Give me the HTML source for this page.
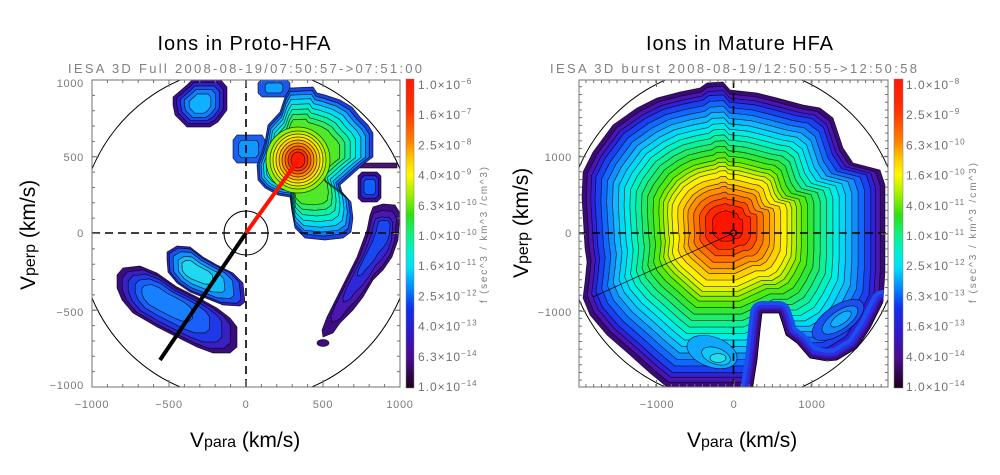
<!DOCTYPE html>
<html><head><meta charset="utf-8"><style>html,body{margin:0;padding:0;background:#fff;}svg{display:block}</style></head>
<body>
<svg width="1000" height="475" viewBox="0 0 1000 475" xmlns="http://www.w3.org/2000/svg" font-family="'Liberation Sans', Arial, sans-serif">
<defs>
<linearGradient id="cb" x1="0" y1="0" x2="0" y2="1">
<stop offset="0" stop-color="#ff1808"/><stop offset="0.1" stop-color="#ff3000"/><stop offset="0.2" stop-color="#ff8000"/>
<stop offset="0.27" stop-color="#ffd800"/><stop offset="0.31" stop-color="#fff800"/><stop offset="0.37" stop-color="#a8f000"/>
<stop offset="0.44" stop-color="#30e010"/><stop offset="0.5" stop-color="#10f080"/><stop offset="0.56" stop-color="#00f0d0"/>
<stop offset="0.61" stop-color="#00e0f8"/><stop offset="0.67" stop-color="#0090ff"/><stop offset="0.74" stop-color="#1030f0"/>
<stop offset="0.82" stop-color="#3018c8"/><stop offset="0.9" stop-color="#4a0c90"/><stop offset="1" stop-color="#200018"/>
</linearGradient>
<clipPath id="clL"><rect x="92" y="80" width="308" height="307"/></clipPath>
<clipPath id="clR"><rect x="579" y="80" width="309" height="307"/></clipPath>
<polygon id="R" vector-effect="non-scaling-stroke" points="707,83 723,82 730,90 757,93 777,98 803,105 820,108 833,118 843,148 853,163 880,170 885,185 885,262 885,272 883,302 870,328 857,348 837,360 812,360 753,387 667,387 650,373 630,355 607,335 590,315 583,298 585,282 587,262 585,248 582,198 583,172 593,152 613,125 637,108 657,98 680,92 700,88"/>
<clipPath id="clRS"><polygon points="707,83 723,82 730,90 757,93 777,98 803,105 820,108 833,118 843,148 853,163 880,170 885,185 885,262 885,272 883,302 870,328 857,348 837,360 812,360 753,387 667,387 650,373 630,355 607,335 590,315 583,298 585,282 587,262 585,248 582,198 583,172 593,152 613,125 637,108 657,98 680,92 700,88"/></clipPath>
<polygon id="N" points="752,400 753,385 757,360 760,330 762,313 779,313 783,325 786,335 797,343 810,358 827,361 837,360 857,348 870,328 883,302 905,300 905,400"/>
<polygon id="M" vector-effect="non-scaling-stroke" points="290,88 313,87 317,93 325,95 340,100 352,107 360,117 368,125 373,133 373,157 365,163 357,170 348,178 340,185 342,192 351,202 353,218 351,232 343,238 325,240 305,238 295,228 292,212 290,197 278,195 265,188 258,180 257,165 262,152 265,142 268,125 280,112 285,97"/>
<polygon id="A" vector-effect="non-scaling-stroke" points="173,97 187,85 193,79 220,79 227,87 227,110 218,122 210,127 187,127 175,115 173,105"/>
<polygon id="B" vector-effect="non-scaling-stroke" points="262,79 286,79 290,83 290,93 286,97 262,97 258,93 258,83"/>
<polygon id="L" vector-effect="non-scaling-stroke" points="237,135 262,135 265,140 265,158 260,163 237,163 233,158 233,140"/>
<polygon id="S" vector-effect="non-scaling-stroke" points="362,172 377,172 381,176 381,198 377,202 362,202 358,198 358,176"/>
<polygon id="T" vector-effect="non-scaling-stroke" points="373,207 383,204 395,205 400,213 398,240 392,257 383,270 373,280 363,297 353,310 340,323 333,333 323,337 322,330 327,317 337,297 347,277 357,257 367,230 370,215"/>
<polygon id="C" vector-effect="non-scaling-stroke" points="167,252 177,246 190,247 203,257 217,265 233,273 243,283 245,302 240,306 223,305 203,297 190,292 177,283 168,272 167,260"/>
<polygon id="D" vector-effect="non-scaling-stroke" points="117,275 123,268 140,266 157,273 177,287 197,297 217,308 230,318 237,327 237,347 230,353 213,353 197,347 177,337 157,327 133,313 122,300 117,288"/>
</defs>

<rect width="1000" height="475" fill="#fff"/>

<!-- Titles -->
<text x="244" y="50" font-size="20" text-anchor="middle" textLength="173" fill="#000">Ions in Proto-HFA</text>
<text x="739.5" y="50" font-size="20" text-anchor="middle" textLength="187" fill="#000">Ions in Mature HFA</text>
<text x="245" y="73" font-size="13" text-anchor="middle" textLength="354" fill="#808080">IESA 3D Full 2008-08-19/07:50:57-&gt;07:51:00</text>
<text x="733.5" y="73" font-size="13" text-anchor="middle" textLength="367" fill="#808080">IESA 3D burst 2008-08-19/12:50:55-&gt;12:50:58</text>

<!-- ===== LEFT PLOT ===== -->
<g clip-path="url(#clL)">
<g stroke="#000" stroke-width="0.7" stroke-opacity="0.8">
<use href="#A" fill="#3a0c90"/>
<use href="#A" fill="#3020d0" transform="translate(200 104) scale(0.86) translate(-200 -104)"/>
<use href="#A" fill="#1a50f0" transform="translate(200 104) scale(0.72) translate(-200 -104)"/>
<use href="#A" fill="#1080ff" transform="translate(200 104) scale(0.58) translate(-200 -104)"/>
<use href="#A" fill="#10b0ff" transform="translate(200 104) scale(0.4) translate(-200 -104)"/>
<use href="#B" fill="#1a58f0"/>
<use href="#B" fill="#10a0ff" transform="translate(274 88) scale(0.55) translate(-274 -88)"/>
<use href="#L" fill="#1a60f0"/>
<use href="#L" fill="#1098ff" transform="translate(248 149) scale(0.62) translate(-248 -149)"/>
<rect x="356" y="163" width="41" height="5" fill="#4a1470"/>
<use href="#S" fill="#3a0c90"/>
<use href="#S" fill="#2030e0" transform="translate(370 187) scale(0.75) translate(-370 -187)"/>
<use href="#S" fill="#1060ff" transform="translate(370 187) scale(0.5) translate(-370 -187)"/>
<use href="#M" fill="#1a40e0"/>
<use href="#M" fill="#1078ff" transform="translate(297 160) scale(0.95) translate(-297 -160)"/>
<use href="#M" fill="#10b0ff" transform="translate(297 160) scale(0.9) translate(-297 -160)"/>
<use href="#M" fill="#00dcf4" transform="translate(297 160) scale(0.84) translate(-297 -160)"/>
<use href="#M" fill="#00f0d0" transform="translate(297 160) scale(0.77) translate(-297 -160)"/>
<use href="#M" fill="#10f0a0" transform="translate(297 160) scale(0.7) translate(-297 -160)"/>
<use href="#M" fill="#30ec60" transform="translate(297 160) scale(0.63) translate(-297 -160)"/>
<use href="#M" fill="#50e828" transform="translate(297 160) scale(0.56) translate(-297 -160)"/>
<ellipse cx="298" cy="160" rx="32" ry="33" fill="#90f000"/>
<ellipse cx="298" cy="160" rx="28" ry="29" fill="#c0f000"/>
<ellipse cx="298" cy="160" rx="25" ry="26" fill="#f0f000"/>
<ellipse cx="298" cy="160" rx="22" ry="23" fill="#ffd800"/>
<ellipse cx="298" cy="160" rx="19" ry="20" fill="#ffb000"/>
<ellipse cx="298" cy="160" rx="16" ry="17" fill="#ff8800"/>
<ellipse cx="298" cy="160" rx="13" ry="14" fill="#ff6000"/>
<ellipse cx="298" cy="160" rx="10" ry="11" fill="#ff3800"/>
<ellipse cx="298" cy="160" rx="7" ry="8" fill="#ff1c00"/>
<use href="#T" fill="#3c0c80"/>
<use href="#T" fill="#4a18b0" transform="translate(378 245) scale(0.84) translate(-378 -245)"/>
<use href="#T" fill="#3028d8" transform="translate(380 240) scale(0.64) translate(-380 -240)"/>
<use href="#T" fill="#1a48f0" transform="translate(383 232) scale(0.42) translate(-383 -232)"/>
<ellipse cx="323" cy="343" rx="6" ry="3.5" fill="#3c0c80"/>
<use href="#C" fill="#3020b8"/>
<use href="#C" fill="#1a50f0" transform="translate(195 272) scale(0.92) translate(-195 -272)"/>
<use href="#C" fill="#1090ff" transform="translate(195 272) scale(0.78) translate(-195 -272)"/>
<use href="#C" fill="#10c0f8" transform="translate(195 272) scale(0.6) translate(-195 -272)"/>
<use href="#C" fill="#20d8f0" transform="translate(192 270) scale(0.4) translate(-192 -270)"/>
<use href="#D" fill="#3a0c80"/>
<use href="#D" fill="#3a20c0" transform="translate(170 305) scale(0.9) translate(-170 -305)"/>
<use href="#D" fill="#2038e8" transform="translate(168 303) scale(0.78) translate(-168 -303)"/>
<use href="#D" fill="#1a60f8" transform="translate(165 300) scale(0.62) translate(-165 -300)"/>
<use href="#D" fill="#1880ff" transform="translate(160 298) scale(0.42) translate(-160 -298)"/>
</g>
<circle cx="246" cy="233.5" r="167" fill="none" stroke="#000" stroke-width="1"/>
</g>
<g stroke="#000" stroke-width="1.6" stroke-dasharray="8 5" fill="none">
<line x1="92" y1="233" x2="400" y2="233"/>
<line x1="246" y1="80" x2="246" y2="387"/>
</g>
<circle cx="246" cy="233" r="22" fill="none" stroke="#000" stroke-width="1"/>
<line x1="246" y1="233" x2="297" y2="162" stroke="#ff1000" stroke-width="4"/>
<line x1="246" y1="233" x2="160" y2="360" stroke="#000" stroke-width="4"/>
<!-- frame & ticks left -->
<g stroke="#707070" fill="none">
<line x1="91.5" y1="385.5" x2="401" y2="385.5" stroke-width="3" stroke-dasharray="1 14.4"/>
<line x1="91.5" y1="383.5" x2="401" y2="383.5" stroke-width="7" stroke-dasharray="1 76"/>
<line x1="91.5" y1="81.5" x2="401" y2="81.5" stroke-width="3" stroke-dasharray="1 14.4"/>
<line x1="91.5" y1="83.5" x2="401" y2="83.5" stroke-width="7" stroke-dasharray="1 76"/>
<line x1="93.5" y1="79.5" x2="93.5" y2="388" stroke-width="3" stroke-dasharray="1 14.35"/>
<line x1="95.5" y1="79.5" x2="95.5" y2="388" stroke-width="7" stroke-dasharray="1 75.75"/>
<line x1="398.5" y1="79.5" x2="398.5" y2="388" stroke-width="3" stroke-dasharray="1 14.35"/>
<line x1="396.5" y1="79.5" x2="396.5" y2="388" stroke-width="7" stroke-dasharray="1 75.75"/>
<rect x="92" y="80" width="308" height="307" stroke-width="1"/>
</g>
<g font-size="11" fill="#7a7a7a" letter-spacing="0.7">
<text x="84" y="87" text-anchor="end">1000</text>
<text x="84" y="161" text-anchor="end">500</text>
<text x="84" y="237" text-anchor="end">0</text>
<text x="84" y="316" text-anchor="end">−500</text>
<text x="84" y="389" text-anchor="end">−1000</text>
<text x="92" y="408" text-anchor="middle">−1000</text>
<text x="169" y="408" text-anchor="middle">−500</text>
<text x="246" y="408" text-anchor="middle">0</text>
<text x="323" y="408" text-anchor="middle">500</text>
<text x="400" y="408" text-anchor="middle">1000</text>
</g>
<text x="190" y="447" font-size="21" fill="#000">V<tspan font-size="16">para</tspan> (km/s)</text>
<text transform="translate(35 290) rotate(-90)" font-size="21" fill="#000">V<tspan font-size="16">perp</tspan> (km/s)</text>
<!-- left colorbar -->
<rect x="406" y="79" width="8" height="309" fill="url(#cb)" stroke="#808080" stroke-width="0.5"/>
<g font-size="12" fill="#707070" letter-spacing="1">
<text x="418" y="89">1.0×10<tspan font-size="8" dy="-5">−6</tspan></text>
<text x="418" y="119.2">1.6×10<tspan font-size="8" dy="-5">−7</tspan></text>
<text x="418" y="149.4">2.5×10<tspan font-size="8" dy="-5">−8</tspan></text>
<text x="418" y="179.6">4.0×10<tspan font-size="8" dy="-5">−9</tspan></text>
<text x="418" y="209.8">6.3×10<tspan font-size="8" dy="-5">−10</tspan></text>
<text x="418" y="240">1.0×10<tspan font-size="8" dy="-5">−10</tspan></text>
<text x="418" y="270.2">1.6×10<tspan font-size="8" dy="-5">−11</tspan></text>
<text x="418" y="300.4">2.5×10<tspan font-size="8" dy="-5">−12</tspan></text>
<text x="418" y="330.6">4.0×10<tspan font-size="8" dy="-5">−13</tspan></text>
<text x="418" y="360.8">6.3×10<tspan font-size="8" dy="-5">−14</tspan></text>
<text x="418" y="391">1.0×10<tspan font-size="8" dy="-5">−14</tspan></text>
</g>
<text transform="translate(487 235) rotate(-90)" font-size="10" fill="#808080" text-anchor="middle" textLength="136">f (sec^3 / km^3 /cm^3)</text>

<!-- ===== RIGHT PLOT ===== -->
<g clip-path="url(#clR)">
<g stroke="#000" stroke-width="0.7" stroke-opacity="0.75">
<use href="#R" fill="#3a0a78"/>
<use href="#R" fill="#4a16b0" transform="translate(727 225) scale(0.97) translate(-727 -225)"/>
<use href="#R" fill="#3020d8" transform="translate(727 225) scale(0.94) translate(-727 -225)"/>
<use href="#R" fill="#1a40f0" transform="translate(727 225) scale(0.91) translate(-727 -225)"/>
<use href="#R" fill="#1068ff" transform="translate(727 225) scale(0.87) translate(-727 -225)"/>
<use href="#R" fill="#1090ff" transform="translate(727 225) scale(0.83) translate(-727 -225)"/>
<use href="#R" fill="#10b8ff" transform="translate(727 225) scale(0.79) translate(-727 -225)"/>
<use href="#R" fill="#00d8f8" transform="translate(727 225) scale(0.75) translate(-727 -225)"/>
<use href="#R" fill="#00ece8" transform="translate(727 225) scale(0.71) translate(-727 -225)"/>
<use href="#R" fill="#00f4c0" transform="translate(727 225) scale(0.67) translate(-727 -225)"/>
<use href="#R" fill="#10f098" transform="translate(727 225) scale(0.63) translate(-727 -225)"/>
<use href="#R" fill="#20ec68" transform="translate(727 225) scale(0.59) translate(-727 -225)"/>
<use href="#R" fill="#30e838" transform="translate(727 225) scale(0.55) translate(-727 -225)"/>
<use href="#R" fill="#50ec10" transform="translate(727 225) scale(0.51) translate(-727 -225)"/>
<use href="#R" fill="#80f000" transform="translate(727 225) scale(0.47) translate(-727 -225)"/>
<use href="#R" fill="#b0f000" transform="translate(727 225) scale(0.44) translate(-727 -225)"/>
<use href="#R" fill="#e0f400" transform="translate(727 225) scale(0.41) translate(-727 -225)"/>
<use href="#R" fill="#fff000" transform="translate(727 225) scale(0.38) translate(-727 -225)"/>
<use href="#R" fill="#ffd000" transform="translate(727 225) scale(0.34) translate(-727 -225)"/>
<use href="#R" fill="#ffb000" transform="translate(727 225) scale(0.3) translate(-727 -225)"/>
<use href="#R" fill="#ff9000" transform="translate(727 225) scale(0.27) translate(-727 -225)"/>
<use href="#R" fill="#ff7000" transform="translate(727 225) scale(0.23) translate(-727 -225)"/>
<use href="#R" fill="#ff4800" transform="translate(727 225) scale(0.19) translate(-727 -225)"/>
<use href="#R" fill="#ff2800" transform="translate(727 225) scale(0.15) translate(-727 -225)"/>
<use href="#R" fill="#ff1400" transform="translate(727 225) scale(0.1) translate(-727 -225)"/>
<ellipse cx="712" cy="352" rx="26" ry="15" fill="#10a8ff" transform="rotate(20 712 352)"/>
<ellipse cx="716" cy="356" rx="15" ry="8" fill="#10c8f8" transform="rotate(20 716 356)"/>
<ellipse cx="718" cy="358" rx="8" ry="4.5" fill="#20e0f0"/>
<ellipse cx="838" cy="320" rx="30" ry="14" fill="#1a50f0" transform="rotate(-35 838 320)"/>
<ellipse cx="840" cy="320" rx="21" ry="9" fill="#1088ff" transform="rotate(-35 840 320)"/>
<ellipse cx="841" cy="319" rx="12" ry="5" fill="#10b0ff" transform="rotate(-35 841 319)"/>
</g>
<g clip-path="url(#clRS)" fill="none" stroke-linejoin="round">
<use href="#N" stroke="#1a50f0" stroke-width="24"/>
<use href="#N" stroke="#2a30e0" stroke-width="16"/>
<use href="#N" stroke="#3a18b8" stroke-width="10"/>
<use href="#N" stroke="#3a0a78" stroke-width="6"/>
</g>
<use href="#N" fill="#fff" stroke="none"/>
<polyline points="753,390 753,385 757,360 760,330 762,313 779,313 783,325 786,335 797,343 810,358 827,361 837,360 857,348 870,328 883,302" fill="none" stroke="#000" stroke-width="0.8"/>
<circle cx="733.5" cy="233.5" r="168" fill="none" stroke="#000" stroke-width="1"/>
</g>
<g stroke="#000" stroke-width="1.6" stroke-dasharray="8 5" fill="none">
<line x1="579" y1="233" x2="888" y2="233"/>
<line x1="733.5" y1="80" x2="733.5" y2="387"/>
</g>
<line x1="733.5" y1="233" x2="593" y2="297" stroke="#000" stroke-width="0.7"/>
<circle cx="733.5" cy="233" r="3" fill="none" stroke="#000" stroke-width="1.2"/>
<g stroke="#707070" fill="none">
<line x1="585.4" y1="385.5" x2="888" y2="385.5" stroke-width="3" stroke-dasharray="1 6.77"/>
<line x1="656" y1="383.5" x2="888" y2="383.5" stroke-width="7" stroke-dasharray="1 76.7"/>
<line x1="585.4" y1="81.5" x2="888" y2="81.5" stroke-width="3" stroke-dasharray="1 6.77"/>
<line x1="656" y1="83.5" x2="888" y2="83.5" stroke-width="7" stroke-dasharray="1 76.7"/>
<line x1="580.5" y1="86.3" x2="580.5" y2="387" stroke-width="3" stroke-dasharray="1 6.72"/>
<line x1="582.5" y1="156.3" x2="582.5" y2="387" stroke-width="7" stroke-dasharray="1 76.2"/>
<line x1="886.5" y1="86.3" x2="886.5" y2="387" stroke-width="3" stroke-dasharray="1 6.72"/>
<line x1="884.5" y1="156.3" x2="884.5" y2="387" stroke-width="7" stroke-dasharray="1 76.2"/>
<rect x="579" y="80" width="309" height="307" stroke-width="1"/>
</g>
<g font-size="11" fill="#7a7a7a" letter-spacing="0.7">
<text x="572" y="161" text-anchor="end">1000</text>
<text x="572" y="237" text-anchor="end">0</text>
<text x="572" y="316" text-anchor="end">−1000</text>
<text x="657" y="408" text-anchor="middle">−1000</text>
<text x="734" y="408" text-anchor="middle">0</text>
<text x="812" y="408" text-anchor="middle">1000</text>
</g>
<text x="687" y="447" font-size="21" fill="#000">V<tspan font-size="16">para</tspan> (km/s)</text>
<text transform="translate(528 278) rotate(-90)" font-size="21" fill="#000">V<tspan font-size="16">perp</tspan> (km/s)</text>
<!-- right colorbar -->
<rect x="894" y="79" width="9" height="309" fill="url(#cb)" stroke="#808080" stroke-width="0.5"/>
<g font-size="12" fill="#707070" letter-spacing="1">
<text x="906" y="89">1.0×10<tspan font-size="8" dy="-5">−8</tspan></text>
<text x="906" y="119.2">2.5×10<tspan font-size="8" dy="-5">−9</tspan></text>
<text x="906" y="149.4">6.3×10<tspan font-size="8" dy="-5">−10</tspan></text>
<text x="906" y="179.6">1.6×10<tspan font-size="8" dy="-5">−10</tspan></text>
<text x="906" y="209.8">4.0×10<tspan font-size="8" dy="-5">−11</tspan></text>
<text x="906" y="240">1.0×10<tspan font-size="8" dy="-5">−11</tspan></text>
<text x="906" y="270.2">2.5×10<tspan font-size="8" dy="-5">−12</tspan></text>
<text x="906" y="300.4">6.3×10<tspan font-size="8" dy="-5">−13</tspan></text>
<text x="906" y="330.6">1.6×10<tspan font-size="8" dy="-5">−13</tspan></text>
<text x="906" y="360.8">4.0×10<tspan font-size="8" dy="-5">−14</tspan></text>
<text x="906" y="391">1.0×10<tspan font-size="8" dy="-5">−14</tspan></text>
</g>
<text transform="translate(976 233) rotate(-90)" font-size="10" fill="#808080" text-anchor="middle" textLength="140">f (sec^3 / km^3 /cm^3)</text>
</svg>
</body></html>
